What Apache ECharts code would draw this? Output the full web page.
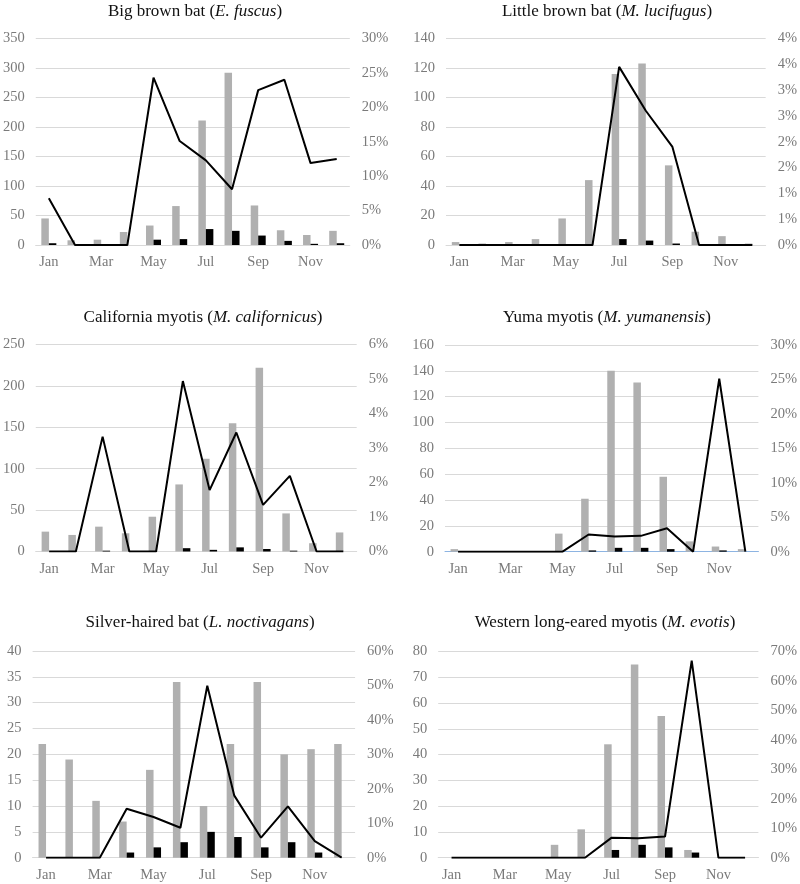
<!DOCTYPE html>
<html><head><meta charset="utf-8">
<script src="https://cdn.jsdelivr.net/npm/echarts@6/dist/echarts.min.js"></script>
<style>html,body{margin:0;padding:0;background:#fff}#c{width:800px;height:884px}</style>
</head><body><div id="c"></div>
<script>
const months = ['Jan','Feb','Mar','Apr','May','Jun','Jul','Aug','Sep','Oct','Nov','Dec'];

const titleCommon = ['Big brown bat', 'Little brown bat', 'California myotis', 'Yuma myotis', 'Silver-haired bat', 'Western long-eared myotis'];
const titleLatin  = ['E. fuscus', 'M. lucifugus', 'M. californicus', 'M. yumanensis', 'L. noctivagans', 'M. evotis'];

// gray bars (left axis), black bars (left axis), line (right axis, %)
const bigBrownGray   = [45, 8, 9, 22, 33, 66, 211, 292, 67, 25, 17, 24];
const bigBrownBlack  = [3, 0, 0, 0, 9, 10, 27, 24, 16, 7, 2, 3];
const bigBrownPct    = [6.8, 0, 0, 0, 24.3, 15.1, 12.3, 8.1, 22.5, 24.0, 11.9, 12.5];

const littleBrownGray  = [2, 1, 2, 4, 18, 44, 116, 123, 54, 9, 6, 1];
const littleBrownBlack = [0, 0, 0, 0, 0, 0, 4, 3, 1, 0, 0, 0];
const littleBrownPct   = [0, 0, 0, 0, 0, 0, 3.45, 2.6, 1.9, 0, 0, 0];

const californiaGray  = [24, 20, 30, 22, 42, 81, 112, 155, 222, 46, 10, 23];
const californiaBlack = [0, 0, 1, 0, 0, 4, 2, 5, 3, 1, 0, 0];
const californiaPct   = [0, 0, 3.33, 0, 0, 4.94, 1.78, 3.45, 1.35, 2.19, 0, 0];

const yumaGray  = [2, 0, 0, 0, 14, 41, 140, 131, 58, 8, 4, 2];
const yumaBlack = [0, 0, 0, 0, 0, 1, 3, 3, 2, 0, 1, 0];
const yumaPct   = [0, 0, 0, 0, 0, 2.5, 2.2, 2.3, 3.4, 0, 25.1, 0];

const silverGray  = [22, 19, 11, 7, 17, 34, 10, 22, 34, 20, 21, 22];
const silverBlack = [0, 0, 0, 1, 2, 3, 5, 4, 2, 3, 1, 0];
const silverPct   = [0, 0, 0, 14.2, 11.8, 8.7, 49.9, 18.1, 5.8, 14.9, 4.8, 0];

const evotisGray  = [0, 0, 0, 0, 5, 11, 44, 75, 55, 3, 0, 0];
const evotisBlack = [0, 0, 0, 0, 0, 0, 3, 5, 4, 2, 0, 0];
const evotisPct   = [0, 0, 0, 0, 0, 0, 6.8, 6.6, 7.2, 66.9, 0, 0];

// axis ranges (tick labels)
const leftMax   = [350, 140, 250, 160, 40, 80];
const leftStep  = [50, 20, 50, 20, 5, 10];
const rightMax  = [30, 4, 6, 30, 60, 70];
const rightStep = [5, 0.5, 1, 5, 10, 10];

const grayData  = [bigBrownGray, littleBrownGray, californiaGray, yumaGray, silverGray, evotisGray];
const blackData = [bigBrownBlack, littleBrownBlack, californiaBlack, yumaBlack, silverBlack, evotisBlack];
const pctData   = [bigBrownPct, littleBrownPct, californiaPct, yumaPct, silverPct, evotisPct];

// layout
const grids = [
  {left: 34.6, top: 38.5, width: 315.2, height: 206.5},
  {left: 446,  top: 38.5, width: 322,   height: 206.5},
  {left: 34.3, top: 344.5, width: 322.4, height: 207},
  {left: 445,  top: 345,  width: 316.5, height: 206.7},
  {left: 32.6, top: 651,  width: 322.5, height: 206.7},
  {left: 438.2, top: 651.5, width: 323.3, height: 206.2}
];
const titleX = [195, 607, 203, 607, 200, 605];
const titleY = [3, 3, 309, 309, 614.5, 614.5];

const FONT = 'Liberation Serif';
const LABEL = '#7a7a7a';
const GRID = '#d9d9d9';

const option = {
  animation: false,
  backgroundColor: '#fff',
  title: [], grid: [], xAxis: [], yAxis: [], series: []
};

for (let i = 0; i < 6; i++) {
  option.title.push({
    text: titleCommon[i] + ' ({i|' + titleLatin[i] + '})',
    left: titleX[i], top: titleY[i], textAlign: 'center', padding: 0,
    textStyle: {
      fontFamily: FONT, fontSize: 17, fontWeight: 'normal', color: '#111',
      rich: {i: {fontFamily: FONT, fontSize: 17, fontStyle: 'italic', color: '#111'}}
    }
  });
  option.grid.push(Object.assign({containLabel: false}, grids[i]));
  option.xAxis.push({
    type: 'category', gridIndex: i, data: months, boundaryGap: true,
    axisTick: {show: false},
    axisLine: {show: true, lineStyle: {color: i === 3 ? '#8db4e2' : GRID, width: 1}},
    axisLabel: {interval: 1, color: LABEL, fontFamily: FONT, fontSize: 14.5, margin: 10},
    splitLine: {show: false}
  });
  option.yAxis.push({
    type: 'value', gridIndex: i, min: 0, max: leftMax[i], interval: leftStep[i],
    axisLine: {show: false}, axisTick: {show: false},
    axisLabel: {color: LABEL, fontFamily: FONT, fontSize: 14.5, margin: 11},
    splitLine: {show: true, lineStyle: {color: GRID, width: 1}}
  });
  option.yAxis.push({
    type: 'value', gridIndex: i, position: 'right', min: 0, max: rightMax[i], interval: rightStep[i],
    axisLine: {show: false}, axisTick: {show: false},
    axisLabel: {color: LABEL, fontFamily: FONT, fontSize: 14.5, margin: 12,
      formatter: v => Math.round(v) + '%'},
    splitLine: {show: false}
  });
  option.series.push({
    type: 'bar', xAxisIndex: i, yAxisIndex: 2 * i, data: grayData[i],
    barWidth: 7.5, barGap: '0%', itemStyle: {color: '#b0b0b0'}, z: 2
  });
  option.series.push({
    type: 'bar', xAxisIndex: i, yAxisIndex: 2 * i, data: blackData[i],
    barWidth: 7.5, barGap: '0%', itemStyle: {color: '#000'}, z: 2
  });
  option.series.push({
    type: 'line', xAxisIndex: i, yAxisIndex: 2 * i + 1, data: pctData[i],
    symbol: 'none', lineStyle: {color: '#000', width: 2}, z: 5
  });
}

const chart = echarts.init(document.getElementById('c'), null, {renderer: 'canvas'});
chart.setOption(option);
</script>
</body></html>
